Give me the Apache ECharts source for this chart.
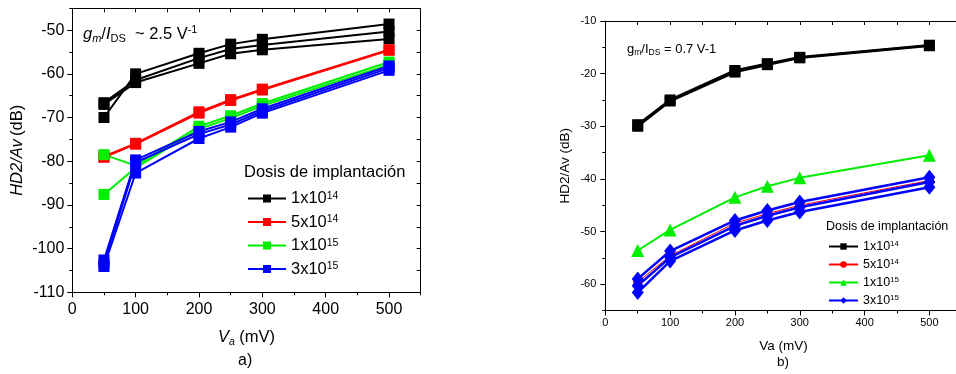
<!DOCTYPE html>
<html>
<head>
<meta charset="utf-8">
<script src="https://cdn.jsdelivr.net/npm/echarts@6/dist/echarts.min.js"></script>
<style>
  html, body { margin: 0; padding: 0; background: #fff; }
  #chart { width: 956px; height: 374px; }
</style>
</head>
<body>
<div id="chart"></div>
<script>
// Bias voltage Va (mV), shared by both panels
const voltages = [50, 100, 200, 250, 300, 500];

// Panel a) gm/IDS ~ 2.5 V^-1 : HD2/Av (dB), several devices per implant dose
const a_1e14 = [
  [-70.0, -60.0, -55.3, -53.2, -52.1, -48.6],
  [-66.6, -61.4, -56.4, -54.3, -53.4, -50.3],
  [-67.0, -62.0, -57.6, -55.4, -54.5, -52.0]
];
const a_5e14 = [
  [-78.9, -75.9, -68.7, -65.9, -63.5, -54.5],
  [-79.1, -76.1, -69.0, -66.1, -63.7, -54.6]
];
const a_1e15 = [
  [-78.5, -81.0, -72.0, -69.6, -66.8, -57.3],
  [-87.6, -81.5, -72.6, -70.2, -67.3, -57.9]
];
const a_3e15 = [
  [-102.6, -79.7, -73.2, -71.0, -68.0, -58.2],
  [-103.5, -80.3, -73.8, -71.6, -68.5, -58.7],
  [-104.1, -82.7, -74.8, -72.2, -69.0, -59.2]
];

// Panel b) gm/IDS = 0.7 V^-1
const b_1e14 = [
  [-30.0, -25.2, -19.7, -18.3, -17.0, -14.7],
  [-29.7, -25.0, -19.4, -18.1, -16.9, -14.6]
];
const b_5e14 = [
  [-59.6, -54.6, -48.4, -46.6, -45.0, -40.3]
];
const b_1e15 = [
  [-53.6, -49.7, -43.5, -41.4, -39.8, -35.5]
];
const b_3e15 = [
  [-59.0, -53.7, -47.9, -46.0, -44.4, -39.7],
  [-60.3, -54.9, -48.9, -47.0, -45.4, -40.6],
  [-61.6, -55.6, -49.8, -47.9, -46.3, -41.6]
];

// Axis ticks
const xMajorTicks = [0, 100, 200, 300, 400, 500];
const xMinorTicks = [50, 150, 250, 350, 450, 550];
const aYMajorTicks = [-110, -100, -90, -80, -70, -60, -50];
const aYMinorTicks = [-105, -95, -85, -75, -65, -55, -45];
const bYMajorTicks = [-60, -50, -40, -30, -20, -10];
const bYMinorTicks = [-65, -55, -45, -35, -25, -15];

// Legend entries (dose names and their exponents)
const doseKeys = ['1e14', '5e14', '1e15', '3e15'];
const doseMantissa = ['1', '5', '1', '3'];
const doseExponent = ['14', '14', '15', '15'];

const FONT = 'Liberation Sans, Arial, sans-serif';
const COLORS = { '1e14': '#000000', '5e14': '#ff0000', '1e15': '#00ee00', '3e15': '#0000ff' };

const chart = echarts.init(document.getElementById('chart'), null, { renderer: 'canvas' });

function axisSet(gridIndex, dim, min, max, majors, minors, fontSize, margin, name, nameGap, nameRich) {
  const isX = dim === 'x';
  const lineStyle = { color: '#000', width: 1 };
  const major = {
    gridIndex, type: 'value', min, max,
    position: isX ? 'bottom' : 'left',
    axisLine: { show: true, onZero: false, lineStyle },
    axisTick: { show: true, inside: false, length: 5, lineStyle, customValues: majors },
    axisLabel: { show: true, customValues: majors, fontFamily: FONT, fontSize, color: '#000', margin },
    splitLine: { show: false },
    name, nameLocation: 'middle', nameGap,
    nameTextStyle: { fontFamily: FONT, color: '#000', rich: nameRich }
  };
  const minor = {
    gridIndex, type: 'value', min, max,
    position: isX ? 'bottom' : 'left',
    axisLine: { show: false, onZero: false },
    axisTick: { show: true, inside: false, length: 3, lineStyle, customValues: minors },
    axisLabel: { show: false },
    splitLine: { show: false }
  };
  const opposite = {
    gridIndex, type: 'value', min, max,
    position: isX ? 'top' : 'right',
    axisLine: { show: true, onZero: false, lineStyle },
    axisTick: { show: true, inside: true, length: 4, lineStyle, customValues: majors.concat(minors) },
    axisLabel: { show: false },
    splitLine: { show: false }
  };
  return [major, minor, opposite];
}

const xAxes = [].concat(
  axisSet(0, 'x', 0, 550, xMajorTicks, xMinorTicks, 16, 9,
    '{i|V}{isub|a}{n| (mV)}', 36,
    { i: { fontStyle: 'italic', fontSize: 16.5, fontFamily: FONT }, isub: { fontStyle: 'italic', fontSize: 10.5, fontFamily: FONT, verticalAlign: 'bottom', padding: [8, 0, 0, 0] }, n: { fontSize: 16.5, fontFamily: FONT } }),
  axisSet(1, 'x', 0, 550, xMajorTicks, xMinorTicks, 11, 7,
    'Va (mV)', 29, { n: { fontSize: 13.5 } })
);
const yAxes = [].concat(
  axisSet(0, 'y', -110, -45, aYMajorTicks, aYMinorTicks, 16, 8,
    '{i|HD2/Av} {n|(dB)}', 46,
    { i: { fontStyle: 'italic', fontSize: 16.5, fontFamily: FONT }, n: { fontSize: 16.5, fontFamily: FONT } }),
  axisSet(1, 'y', -65, -10, bYMajorTicks, bYMinorTicks, 11, 9,
    'HD2/Av (dB)', 33, { n: { fontSize: 13.5 } })
);
// plain-name axes use the default text size
xAxes[3].nameTextStyle.fontSize = 13.5;
yAxes[3].nameTextStyle.fontSize = 13.5;

function toPoints(values) {
  return voltages.map((v, i) => [v, values[i]]);
}

const series = [];
function addGroup(panel, key, curves, symbol, symbolSize, lineWidth) {
  curves.forEach((vals) => {
    series.push({
      type: 'line',
      name: panel + key,
      xAxisIndex: panel === 'a' ? 0 : 3,
      yAxisIndex: panel === 'a' ? 0 : 3,
      data: toPoints(vals),
      symbol, symbolSize,
      showSymbol: true,
      lineStyle: { color: COLORS[key], width: lineWidth },
      itemStyle: { color: COLORS[key], borderWidth: 0 },
      emphasis: { disabled: true },
      animation: false
    });
  });
}
addGroup('a', '1e14', a_1e14, 'rect', 11, 2);
addGroup('a', '5e14', a_5e14, 'rect', 11, 2);
addGroup('a', '1e15', a_1e15, 'rect', 11, 2);
addGroup('a', '3e15', a_3e15, 'rect', 11, 2);
addGroup('b', '1e14', b_1e14, 'rect', 11, 2.5);
addGroup('b', '5e14', b_5e14, 'circle', 9, 1);
addGroup('b', '1e15', b_1e15, 'triangle', 13, 2);
addGroup('b', '3e15', b_3e15, 'diamond', [12, 15], 2.5);

function legendFormatter(name) {
  const i = doseKeys.indexOf(name.slice(1));
  return doseMantissa[i] + 'x10{sup|' + doseExponent[i] + '}';
}

const legends = [
  {
    data: doseKeys.map(k => 'a' + k),
    orient: 'vertical', left: 242, top: 185,
    itemWidth: 38, itemHeight: 10, itemGap: 6.5,
    selectedMode: false,
    formatter: legendFormatter,
    textStyle: { fontFamily: FONT, fontSize: 16.5, color: '#000', lineHeight: 16.5,
      rich: { sup: { fontSize: 10.5, verticalAlign: 'top', lineHeight: 10, padding: [0, 0, 4, 0] } } }
  },
  {
    data: doseKeys.map(k => 'b' + k),
    orient: 'vertical', left: 823, top: 235,
    itemWidth: 29, itemHeight: 8, itemGap: 5,
    selectedMode: false,
    formatter: legendFormatter,
    textStyle: { fontFamily: FONT, fontSize: 12.5, color: '#000', lineHeight: 12.5,
      rich: { sup: { fontSize: 8, verticalAlign: 'top', lineHeight: 8, padding: [0, 0, 3, 0] } } }
  }
];

const graphics = [
  {
    type: 'text', left: 83, top: 24,
    style: {
      text: '{i|g}{isub|m}{n|/}{i|I}{sub|DS}{n|  ~ 2.5 V}{sup|-1}',
      font: '16.5px ' + FONT, fill: '#000',
      rich: {
        i: { fontStyle: 'italic', fontSize: 16.5, fontFamily: FONT },
        n: { fontSize: 16.5, fontFamily: FONT },
        isub: { fontStyle: 'italic', fontSize: 11, fontFamily: FONT, verticalAlign: 'bottom', padding: [9, 0, 0, 0] },
        sub: { fontSize: 11, fontFamily: FONT, verticalAlign: 'bottom', padding: [9, 0, 0, 0] },
        sup: { fontSize: 11, fontFamily: FONT, verticalAlign: 'top', padding: [0, 0, 9, 0] }
      }
    }
  },
  { type: 'text', left: 244, top: 164,
    style: { text: 'Dosis de implantación', font: '16.5px ' + FONT, fill: '#000' } },
  { type: 'text', left: 238, top: 353,
    style: { text: 'a)', font: '16px ' + FONT, fill: '#000' } },
  {
    type: 'text', left: 627, top: 43,
    style: {
      text: '{n|g}{sub|m}{n|/I}{sub|DS}{n| = 0.7 V-1}',
      font: '13px ' + FONT, fill: '#000',
      rich: {
        n: { fontSize: 13, fontFamily: FONT },
        sub: { fontSize: 8.5, fontFamily: FONT, verticalAlign: 'bottom', padding: [7, 0, 0, 0] }
      }
    }
  },
  { type: 'text', left: 826, top: 220,
    style: { text: 'Dosis de implantación', font: '12.5px ' + FONT, fill: '#000' } },
  { type: 'text', left: 777, top: 355,
    style: { text: 'b)', font: '13.5px ' + FONT, fill: '#000' } }
];

chart.setOption({
  backgroundColor: '#ffffff',
  animation: false,
  grid: [
    { left: 72.3, top: 8.3, width: 348.4, height: 284, outerBoundsMode: 'none', containLabel: false },
    { left: 605.3, top: 21, width: 356.5, height: 289.5, outerBoundsMode: 'none', containLabel: false }
  ],
  xAxis: xAxes,
  yAxis: yAxes,
  legend: legends,
  series,
  graphic: graphics
});
</script>
</body>
</html>
